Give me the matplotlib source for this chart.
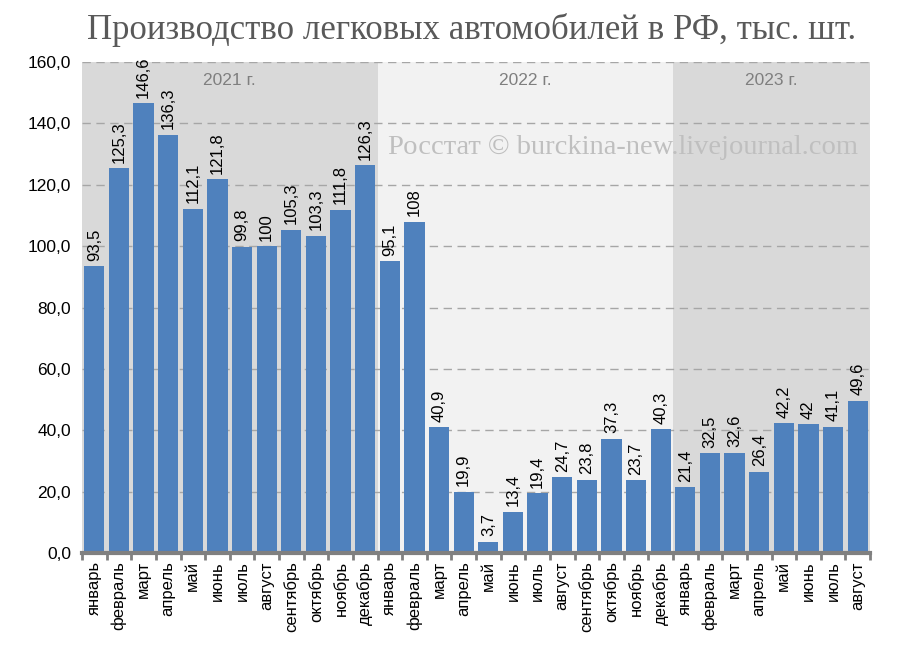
import matplotlib
matplotlib.use("Agg")
import matplotlib.pyplot as plt
import numpy as np

months = ["январь", "февраль", "март", "апрель", "май", "июнь", "июль", "август",
          "сентябрь", "октябрь", "ноябрь", "декабрь"]
labels_2021 = months
labels_2022 = months
labels_2023 = months[:8]
values_2021 = [93.5, 125.3, 146.6, 136.3, 112.1, 121.8, 99.8, 100, 105.3, 103.3, 111.8, 126.3]
values_2022 = [95.1, 108, 40.9, 19.9, 3.7, 13.4, 19.4, 24.7, 23.8, 37.3, 23.7, 40.3]
values_2023 = [21.4, 32.5, 32.6, 26.4, 42.2, 42, 41.1, 49.6]
years = ["2021 г.", "2022 г.", "2023 г."]
yticks = [0, 20, 40, 60, 80, 100, 120, 140, 160]

cats = labels_2021 + labels_2022 + labels_2023
vals = values_2021 + values_2022 + values_2023
groups = [len(values_2021), len(values_2022), len(values_2023)]
n = len(vals)
x = np.arange(n)

plt.rcParams['font.family'] = ['Liberation Sans', 'DejaVu Sans']
fig = plt.figure(figsize=(9, 6.63), dpi=100)
ax = fig.add_axes([82/900, 110/663, 788/900, 491/663])
ax.set_xlim(-0.5, n - 0.5)
ax.set_ylim(0, 160)

# background year bands
band_colors = ["#d9d9d9", "#f2f2f2", "#d9d9d9"]
start = 0
for g, c, yl in zip(groups, band_colors, years):
    ax.axvspan(start - 0.5, start + g - 0.5, color=c, zorder=0, lw=0)
    ax.text(start + g / 2 - 0.5, 154, yl, ha='center', va='center', fontsize=12.5,
            color='#7f7f7f', zorder=3)
    start += g

for yv in yticks[1:]:
    ax.axhline(yv, color='#a6a6a6', lw=1, ls=(0, (6, 4)), zorder=1)

ax.bar(x, vals, width=0.82, color='#4f81bd', zorder=2)

for xi, v in zip(x, vals):
    ax.text(xi, v + 1.8, f"{v:g}".replace('.', ','), rotation=90, ha='center', va='bottom',
            fontsize=12, color='black', zorder=4)

ax.set_yticks(yticks)
ax.set_yticklabels([f"{t:.1f}".replace('.', ',') for t in yticks], fontsize=12.5)
ax.set_xticks(x)
ax.set_xticklabels(cats, rotation=90, fontsize=12)
ax.set_xticks(np.arange(n + 1) - 0.5, minor=True)
ax.tick_params(axis='x', which='major', length=0, pad=6)
ax.tick_params(axis='x', which='minor', length=5, width=2, color='#808080')
ax.tick_params(axis='y', length=0, pad=8)
for s in ['top', 'right', 'left']:
    ax.spines[s].set_visible(False)
ax.spines['bottom'].set_color('#808080')
ax.spines['bottom'].set_linewidth(3)

ax.text(0.985, 132.3, "Росстат © burckina-new.livejournal.com", transform=ax.get_yaxis_transform(),
        ha='right', va='center', fontsize=20.5, color='#bfbfbf',
        family=['Liberation Serif', 'DejaVu Serif'], zorder=3)

fig.text(472/900, 0.955, "Производство легковых автомобилей в РФ, тыс. шт.", ha='center', va='center',
         fontsize=25, color='#595959', family=['Liberation Serif', 'DejaVu Serif'])

fig.savefig("out.png", dpi=100, facecolor='white')
